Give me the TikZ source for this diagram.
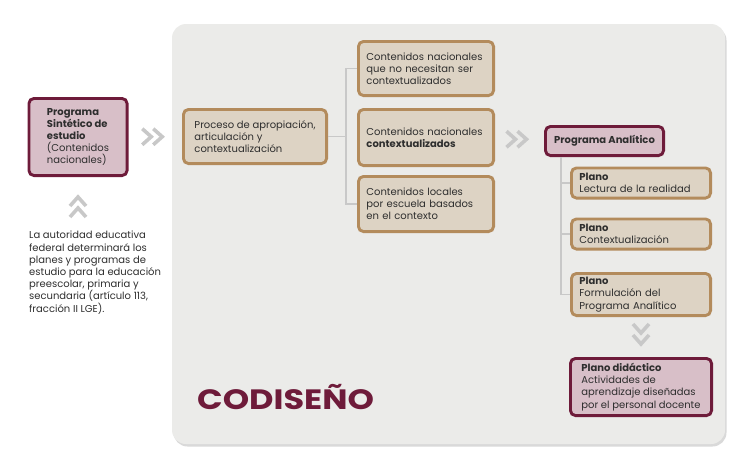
\documentclass[tikz,border=0pt]{standalone}
\usepackage{fontspec}
\setmainfont{Poppins}
\newfontfamily\anchafont[FakeStretch=1.2]{Poppins}
\usetikzlibrary{calc,shadows}

\definecolor{granate}{HTML}{6E1B3A}
\definecolor{rosa}{HTML}{D8BFC8}
\definecolor{cafe}{HTML}{B38B5C}
\definecolor{arena}{HTML}{DDD3C4}
\definecolor{panelgris}{HTML}{EBEBE9}
\definecolor{linea}{HTML}{C8C8C8}
\definecolor{texto}{HTML}{2E2E2E}

\tikzset{
  caja/.style={rectangle, rounded corners=5pt, line width=2.9pt, align=left,
    inner xsep=8pt, inner ysep=3pt, text=texto,
    font=\fontsize{10}{12.2}\selectfont},
  cajacafe/.style={caja, draw=cafe, fill=arena},
  cajagranate/.style={caja, draw=granate, fill=rosa},
  rama/.style={draw=linea, line width=1.3pt},
  pics/flechas/.style={code={
    \draw[linea, line width=3.6pt] (-13,-8) -- (-4,0) -- (-13,8)
      (-2,-8) -- (7,0) -- (-2,8);}}
}

\begin{document}
\begin{tikzpicture}[x=1pt, y=-1pt]
\useasboundingbox (0,0) rectangle (732,458);

% fondo
\path[fill=panelgris, rounded corners=14pt,
  drop shadow={shadow xshift=1.5pt, shadow yshift=-2.5pt, opacity=.3}]
  (172,24) rectangle (725,444);

\node[cajagranate, minimum width=98.1pt, minimum height=77.1pt] (sint) at (78,137)
  {\textbf{Programa}\\\textbf{Sintético de}\\\textbf{estudio}\\(Contenidos\\nacionales)};
\node[anchor=north west, inner sep=0pt, align=left, text=texto,
  font=\fontsize{10}{12.2}\selectfont] (nota) at (29,231)
  {La autoridad educativa\\federal determinará los\\planes y programas de\\estudio para la educación\\preescolar, primaria y\\secundaria (artículo 113,\\fracción II LGE).};

\node[cajacafe, minimum width=143.1pt, minimum height=54.1pt] (proc) at (255,136.5)
  {Proceso de apropiación,\\articulación y\\contextualización};
\node[cajacafe, text width=119.1pt, minimum height=54.1pt] (c1) at (426,68.5)
  {Contenidos nacionales\\que no necesitan ser\\contextualizados};
\node[cajacafe, text width=119.1pt, minimum height=56.1pt] (c2) at (426,137.5)
  {Contenidos nacionales\\\textbf{contextualizados}};
\node[cajacafe, text width=119.1pt, minimum height=55.1pt] (c3) at (426,204)
  {Contenidos locales\\por escuela basados\\en el contexto};

\node[cajagranate, align=center, minimum width=118.1pt, minimum height=29.1pt] (analit) at (604.5,141)
  {\textbf{Programa Analítico}};
\node[cajacafe, text width=123.1pt, minimum height=30.1pt] (p1) at (641,183)
  {\textbf{Plano}\\Lectura de la realidad};
\node[cajacafe, text width=123.1pt, minimum height=30.1pt] (p2) at (641,234)
  {\textbf{Plano}\\Contextualización};
\node[cajacafe, text width=123.1pt, minimum height=42.1pt] (p3) at (641,294.5)
  {\textbf{Plano}\\Formulación del\\Programa Analítico};
\node[cajagranate, minimum width=141.1pt, minimum height=57.1pt] (didac) at (641,387)
  {\textbf{Plano didáctico}\\Actividades de\\aprendizaje diseñadas\\por el personal docente};

\node[anchor=base west, inner sep=0pt, text=granate,
  font=\anchafont\fontsize{28}{30}\selectfont\bfseries] (codi) at (197,409) {CODISEÑO};

% ramas
\coordinate (busA) at (346,0);
\coordinate (busB) at (561,0);
\draw[rama] (proc.east) -- (proc.east -| busA);
\draw[rama] (c1.west) -- (c1.west -| busA) -- (c3.west -| busA) -- (c3.west);
\draw[rama] (analit.south -| busB) -- (p3.west -| busB) -- (p3.west);
\draw[rama] (p1.west -| busB) -- (p1.west);
\draw[rama] (p2.west -| busB) -- (p2.west);

% flechas
\pic at ($(sint.east)!0.5!(proc.west)$) {flechas};
\pic at ($(c2.east)!0.5!(analit.west)$) {flechas};
\pic[rotate=90] at ($(sint.south)!0.5!(nota.north -| sint.south)$) {flechas};
\pic[rotate=-90] at ($(p3.south)!0.5!(didac.north)$) {flechas};
\end{tikzpicture}
\end{document}
